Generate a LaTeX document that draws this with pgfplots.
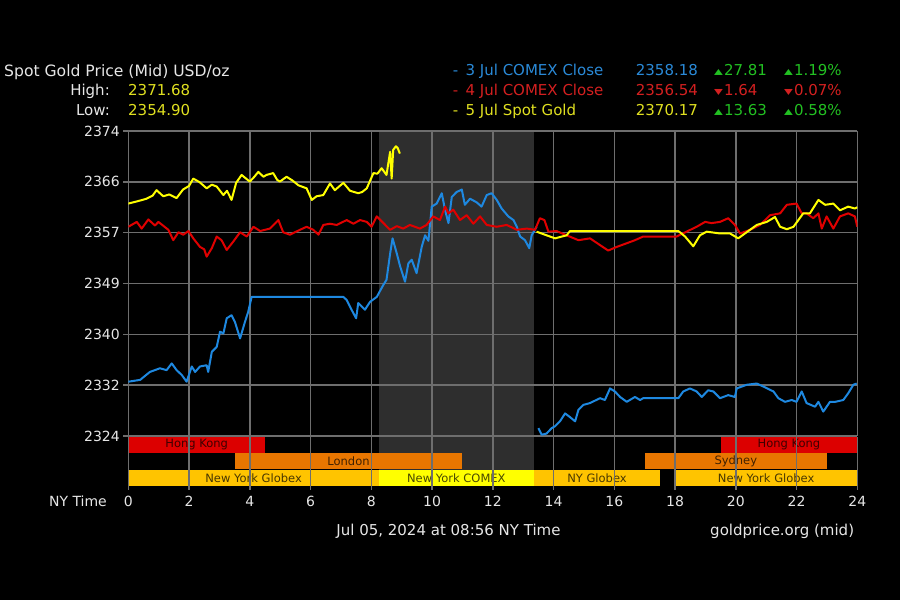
\documentclass[border=0pt]{standalone}
\usepackage{pgfplots}
\pgfplotsset{compat=1.18}
\usepackage{fontspec}
\setmainfont{DejaVu Sans}
\definecolor{gridc}{HTML}{6E6E6E}
\definecolor{shade}{HTML}{2E2E2E}
\definecolor{lblue}{HTML}{1E88E0}
\definecolor{lred}{HTML}{E00000}
\definecolor{lyellow}{HTML}{FFFF00}
\definecolor{txt}{HTML}{E6E6E6}
\definecolor{tyellow}{HTML}{E0E020}
\definecolor{tblue}{HTML}{2A8AD8}
\definecolor{tred}{HTML}{D42020}
\definecolor{tgreen}{HTML}{22C022}
\definecolor{hk}{HTML}{DC0000}
\definecolor{lon}{HTML}{E87600}
\definecolor{nyg}{HTML}{FFC400}
\definecolor{nyc}{HTML}{FFFF00}
\newcommand{\hdr}{\fontsize{15}{15}\selectfont}
\newcommand{\up}{\raisebox{1.6pt}{\scalebox{1}[0.68]{\fontsize{11.5}{11.5}\selectfont ▲}}\hspace{1pt}}
\newcommand{\down}{\raisebox{1.6pt}{\scalebox{1}[0.68]{\fontsize{11.5}{11.5}\selectfont ▼}}\hspace{1pt}}
\begin{document}
\begin{tikzpicture}[lbl/.style={font=\fontsize{11.5}{11.5}\selectfont, text=black, text opacity=0.72}]
\fill[black] (0,0) rectangle (900pt,600pt);

% ---------------- shaded COMEX-hours band (under the grid) ----------------
\begin{axis}[
  at={(128.3pt,164pt)}, anchor=south west,
  scale only axis, width=729pt, height=305pt,
  xmin=0, xmax=24, ymin=2324, ymax=2374,
  hide axis,
]
\addplot[draw=none, fill=shade] coordinates {(8.25,2324)(13.36,2324)(13.36,2374)(8.25,2374)};
\end{axis}

% ---------------- main price axis ----------------
\begin{axis}[
  at={(128.3pt,164pt)}, anchor=south west,
  scale only axis, width=729pt, height=305pt,
  xmin=0, xmax=24, ymin=2324, ymax=2374,
  xtick={0,2,...,24}, xticklabels={},
  ytick={2324,2332.3333,2340.6667,2349,2357.3333,2365.6667,2374},
  yticklabels={2324,2332,2340,2349,2357,2366,2374},
  grid=major, grid style={draw=gridc, line width=1.5pt},
  axis line style={draw=none},
  ytick pos=left, tick align=outside, major tick length=5pt,
  xtick style={draw=none},
  ytick style={draw=gridc, line width=1.5pt},
  yticklabel style={font=\fontsize{14}{14}\selectfont, text=txt},
  /pgf/number format/assume math mode=true,
]
% 3 Jul COMEX Close (blue)
\addplot[lblue, line width=2pt, line join=round] coordinates {
(0,2332.9)(0.39,2333.2)(0.71,2334.5)(1.04,2335.1)(1.26,2334.8)(1.43,2335.9)(1.59,2334.8)(1.76,2334.0)(1.92,2332.9)(2.09,2335.4)(2.2,2334.5)(2.36,2335.4)(2.58,2335.6)(2.63,2334.5)(2.75,2337.8)(2.91,2338.6)(3.02,2341.1)(3.13,2340.8)(3.24,2343.3)(3.4,2343.8)(3.51,2342.7)(3.68,2340.0)(3.84,2342.7)(3.95,2344.4)(4.06,2346.8)(7.08,2346.8)(7.19,2346.3)(7.35,2344.7)(7.5,2343.3)(7.57,2345.8)(7.79,2344.7)(7.96,2346.0)(8.18,2346.8)(8.4,2348.8)(8.5,2349.6)(8.62,2353.9)(8.7,2356.4)(8.84,2353.9)(8.95,2351.8)(9.11,2349.3)(9.22,2352.3)(9.33,2352.9)(9.49,2350.7)(9.66,2355.0)(9.77,2356.9)(9.88,2356.0)(9.99,2361.6)(10.15,2362.1)(10.32,2363.8)(10.43,2361.0)(10.54,2358.9)(10.65,2363.2)(10.81,2364.0)(10.98,2364.4)(11.08,2361.9)(11.25,2362.9)(11.47,2362.3)(11.63,2361.6)(11.8,2363.5)(11.96,2363.8)(12.13,2362.7)(12.29,2361.3)(12.51,2360.0)(12.68,2359.4)(12.79,2358.3)(12.9,2356.7)(13.06,2356.1)(13.2,2354.8)(13.28,2356.9)(13.44,2358.3)
};
\addplot[lblue, line width=2pt, line join=round] coordinates {
(13.5,2325.3)(13.61,2324.2)(13.77,2324.4)(13.94,2325.3)(14.05,2325.6)(14.21,2326.4)(14.38,2327.7)(14.54,2327.1)(14.71,2326.4)(14.82,2328.3)(14.98,2329.1)(15.2,2329.4)(15.53,2330.2)(15.69,2329.9)(15.86,2331.8)(16.02,2331.3)(16.19,2330.4)(16.41,2329.6)(16.68,2330.4)(16.85,2329.9)(16.95,2330.2)(18.11,2330.2)(18.27,2331.3)(18.49,2331.8)(18.71,2331.3)(18.88,2330.4)(19.09,2331.5)(19.26,2331.3)(19.48,2330.2)(19.75,2330.7)(19.97,2330.4)(20.03,2331.8)(20.36,2332.4)(20.69,2332.6)(20.91,2332.1)(21.24,2331.3)(21.4,2330.2)(21.62,2329.6)(21.84,2329.9)(22.0,2329.6)(22.17,2331.3)(22.33,2329.4)(22.61,2328.8)(22.72,2329.6)(22.88,2328.0)(23.1,2329.6)(23.27,2329.6)(23.54,2329.9)(23.7,2331.0)(23.87,2332.4)(23.98,2332.6)
};

% 4 Jul COMEX Close (red)
\addplot[lred, line width=2pt, line join=round] coordinates {
(0,2358.3)(0.28,2359.1)(0.44,2358.0)(0.66,2359.5)(0.88,2358.5)(0.99,2359.1)(1.32,2357.8)(1.48,2356.1)(1.65,2357.4)(1.81,2357.0)(1.98,2357.6)(2.14,2356.4)(2.36,2355.0)(2.5,2354.6)(2.58,2353.4)(2.75,2354.8)(2.91,2356.7)(3.07,2356.1)(3.24,2354.5)(3.46,2355.9)(3.68,2357.4)(3.9,2356.7)(4.12,2358.3)(4.34,2357.6)(4.66,2358.0)(4.94,2359.4)(5.1,2357.4)(5.32,2357.0)(5.65,2357.8)(5.87,2358.3)(6.09,2357.8)(6.26,2357.0)(6.42,2358.6)(6.64,2358.8)(6.86,2358.6)(7.19,2359.4)(7.41,2358.8)(7.63,2359.4)(7.85,2359.1)(8.01,2358.3)(8.18,2360.0)(8.4,2358.9)(8.62,2357.8)(8.84,2358.4)(9.05,2358.0)(9.27,2358.6)(9.6,2358.0)(9.82,2358.6)(10.04,2360.0)(10.26,2359.4)(10.43,2361.6)(10.54,2360.5)(10.7,2361.1)(10.92,2359.4)(11.14,2360.2)(11.36,2358.8)(11.58,2360.0)(11.8,2358.6)(12.13,2358.3)(12.46,2358.6)(12.79,2357.8)(13.12,2358.0)(13.39,2357.8)(13.55,2359.7)(13.7,2359.4)(13.83,2357.5)(14.1,2357.6)(14.43,2356.9)(14.82,2356.1)(15.2,2356.4)(15.53,2355.3)(15.8,2354.4)(16.08,2355.0)(16.41,2355.6)(16.68,2356.1)(16.95,2356.7)(18.05,2356.7)(18.38,2357.5)(18.71,2358.3)(18.99,2359.1)(19.2,2358.9)(19.48,2359.1)(19.75,2359.7)(19.97,2358.6)(20.14,2357.2)(20.47,2357.8)(20.8,2358.6)(21.13,2360.2)(21.46,2360.5)(21.68,2361.9)(22.0,2362.1)(22.17,2360.5)(22.33,2360.5)(22.55,2359.7)(22.72,2360.5)(22.83,2358.0)(22.99,2360.0)(23.21,2358.0)(23.43,2360.0)(23.7,2360.5)(23.92,2360.0)(24.0,2358.3)
};

% 5 Jul Spot Gold (yellow)
\addplot[lyellow, line width=2pt, line join=round] coordinates {
(0,2362.1)(0.39,2362.6)(0.6,2362.9)(0.8,2363.4)(0.93,2364.3)(1.15,2363.3)(1.35,2363.6)(1.59,2363.0)(1.8,2364.4)(2.0,2365.0)(2.14,2366.2)(2.35,2365.6)(2.58,2364.6)(2.75,2365.2)(2.91,2364.9)(3.13,2363.5)(3.25,2364.2)(3.4,2362.7)(3.55,2365.5)(3.73,2366.8)(4.0,2365.7)(4.15,2366.5)(4.28,2367.3)(4.45,2366.5)(4.55,2366.8)(4.77,2367.1)(4.9,2366.0)(4.99,2365.7)(5.21,2366.5)(5.4,2365.9)(5.6,2365.1)(5.87,2364.6)(6.04,2362.7)(6.2,2363.3)(6.42,2363.5)(6.64,2365.4)(6.8,2364.3)(7.08,2365.5)(7.3,2364.2)(7.57,2363.8)(7.7,2364.0)(7.85,2364.6)(8.07,2367.1)(8.2,2367.0)(8.34,2367.9)(8.5,2366.8)(8.62,2370.6)(8.67,2366.2)(8.72,2370.9)(8.81,2371.5)(8.87,2371.2)(8.94,2370.3)
};
\addplot[lyellow, line width=2pt, line join=round] coordinates {
(13.44,2357.5)(13.77,2356.9)(14.05,2356.4)(14.2,2356.6)(14.43,2356.9)(14.54,2357.6)(18.11,2357.6)(18.33,2356.7)(18.6,2355.1)(18.82,2356.9)(19.04,2357.5)(19.48,2357.2)(19.81,2357.2)(20.08,2356.4)(20.3,2357.2)(20.69,2358.6)(21.02,2359.1)(21.29,2359.9)(21.46,2358.3)(21.68,2357.9)(21.9,2358.3)(22.06,2359.4)(22.22,2360.5)(22.44,2360.5)(22.72,2362.7)(22.94,2361.9)(23.21,2362.1)(23.43,2361.0)(23.7,2361.6)(23.92,2361.3)(24,2361.5)
};
\end{axis}

% ---------------- trading sessions axis ----------------
\begin{axis}[
  at={(128.3pt,114pt)}, anchor=south west,
  scale only axis, width=729pt, height=49pt,
  xmin=0, xmax=24, ymin=0, ymax=3,
  xtick={0,2,...,24}, ytick=\empty,
  xmajorgrids, grid style={draw=gridc, line width=1.5pt},
  axis line style={draw=none},
  xtick pos=bottom, tick align=outside, major tick length=4pt,
  xtick style={draw=gridc, line width=1.5pt},
  xticklabel style={font=\fontsize{14}{14}\selectfont, text=txt, yshift=-3pt},
  /pgf/number format/assume math mode=true,
  axis on top,
]
\addplot[draw=none, fill=shade] coordinates {(8.25,1)(13.36,1)(13.36,3)(8.25,3)};
% Hong Kong
\addplot[draw=none, fill=hk] coordinates {(0,2.04)(4.5,2.04)(4.5,3)(0,3)};
\addplot[draw=none, fill=hk] coordinates {(19.5,2.04)(24,2.04)(24,3)(19.5,3)};
% London, Sydney
\addplot[draw=none, fill=lon] coordinates {(3.5,1.02)(11,1.02)(11,2.02)(3.5,2.02)};
\addplot[draw=none, fill=lon] coordinates {(17,1.02)(23,1.02)(23,2.02)(17,2.02)};
% New York
\addplot[draw=none, fill=nyg] coordinates {(0,0)(8.25,0)(8.25,0.98)(0,0.98)};
\addplot[draw=none, fill=nyc] coordinates {(8.25,0)(13.36,0)(13.36,0.98)(8.25,0.98)};
\addplot[draw=none, fill=nyg] coordinates {(13.36,0)(17.5,0)(17.5,0.98)(13.36,0.98)};
\addplot[draw=none, fill=nyg] coordinates {(18,0)(24,0)(24,0.98)(18,0.98)};
\node[lbl] at (axis cs:2.25,2.52) {Hong Kong};
\node[lbl] at (axis cs:21.75,2.52) {Hong Kong};
\node[lbl] at (axis cs:7.25,1.52) {London};
\node[lbl] at (axis cs:20,1.52) {Sydney};
\node[lbl] at (axis cs:4.125,0.5) {New York Globex};
\node[lbl] at (axis cs:10.8,0.5) {New York COMEX};
\node[lbl] at (axis cs:15.43,0.5) {NY Globex};
\node[lbl] at (axis cs:21,0.5) {New York Globex};
\end{axis}

% ---------------- texts ----------------
\node[anchor=base east, text=txt, font=\fontsize{14}{14}\selectfont, inner sep=0pt] at (107pt,93.3pt) {NY Time};
\node[anchor=base west, text=txt, font=\fontsize{15.6}{15.6}\selectfont, inner sep=0pt] at (4pt,523.5pt) {Spot Gold Price (Mid) USD/oz};
\node[anchor=base east, text=txt, font=\hdr, inner sep=0pt] at (110pt,504pt) {High:};
\node[anchor=base west, text=tyellow, font=\hdr, inner sep=0pt] at (128pt,504pt) {2371.68};
\node[anchor=base east, text=txt, font=\hdr, inner sep=0pt] at (110pt,484pt) {Low:};
\node[anchor=base west, text=tyellow, font=\hdr, inner sep=0pt] at (128pt,484pt) {2354.90};

\node[anchor=base west, text=tblue, font=\hdr, inner sep=0pt] at (452.7pt,524pt) {-\, 3 Jul COMEX Close};
\node[anchor=base west, text=tblue, font=\hdr, inner sep=0pt] at (635.7pt,524pt) {2358.18};
\node[anchor=base west, text=tgreen, font=\hdr, inner sep=0pt] at (714pt,524pt) {\up 27.81};
\node[anchor=base west, text=tgreen, font=\hdr, inner sep=0pt] at (784pt,524pt) {\up 1.19\%};

\node[anchor=base west, text=tred, font=\hdr, inner sep=0pt] at (452.7pt,504pt) {-\, 4 Jul COMEX Close};
\node[anchor=base west, text=tred, font=\hdr, inner sep=0pt] at (635.7pt,504pt) {2356.54};
\node[anchor=base west, text=tred, font=\hdr, inner sep=0pt] at (714pt,504pt) {\down 1.64};
\node[anchor=base west, text=tred, font=\hdr, inner sep=0pt] at (784pt,504pt) {\down 0.07\%};

\node[anchor=base west, text=tyellow, font=\hdr, inner sep=0pt] at (452.7pt,484pt) {-\, 5 Jul Spot Gold};
\node[anchor=base west, text=tyellow, font=\hdr, inner sep=0pt] at (635.7pt,484pt) {2370.17};
\node[anchor=base west, text=tgreen, font=\hdr, inner sep=0pt] at (714pt,484pt) {\up 13.63};
\node[anchor=base west, text=tgreen, font=\hdr, inner sep=0pt] at (784pt,484pt) {\up 0.58\%};

\node[anchor=base, text=txt, font=\hdr, inner sep=0pt] at (448.5pt,64pt) {Jul 05, 2024 at 08:56 NY Time};
\node[anchor=base east, text=txt, font=\hdr, inner sep=0pt] at (854.3pt,64pt) {goldprice.org (mid)};
\end{tikzpicture}
\end{document}
